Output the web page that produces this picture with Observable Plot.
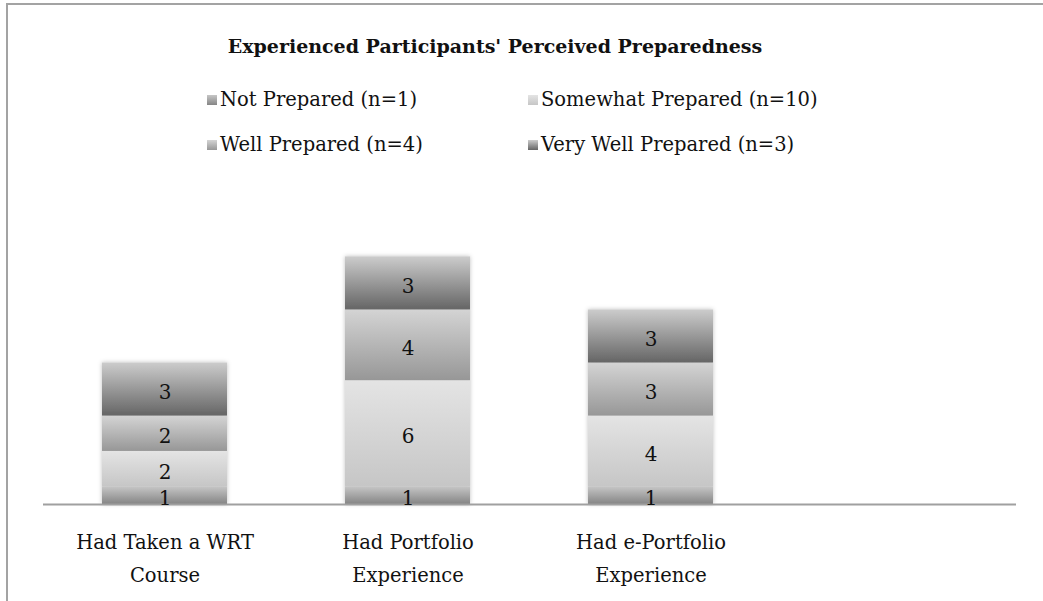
<!DOCTYPE html>
<html>
<head>
<meta charset="utf-8">
<script src="https://cdn.jsdelivr.net/npm/d3@7"></script>
<script src="https://cdn.jsdelivr.net/npm/@observablehq/plot@0.6"></script>
<style>
  html, body { margin: 0; padding: 0; background: #fff; overflow: hidden; }
  body { width: 1043px; height: 601px; position: relative; font-family: "DejaVu Serif", serif; color: #111; }
  #frame { position: absolute; left: 6px; top: 3px; width: 1100px; height: 700px; border-left: 2px solid #a3a3a3; border-top: 2px solid #a3a3a3; box-sizing: border-box; pointer-events: none; }
  #header { position: relative; height: 170px; }
  #title { position: absolute; left: 0; width: 990px; top: 33px; text-align: center; font-weight: bold; font-size: 19px; line-height: 26px; }
  .item { position: absolute; font-size: 19.5px; line-height: 26px; white-space: nowrap; }
  .sw { display: inline-block; width: 10px; height: 10px; margin-right: 3px; vertical-align: 1px; }
  #chart svg { display: block; }
</style>
</head>
<body>
<div id="frame"></div>
<div id="header">
  <div id="title">Experienced Participants' Perceived Preparedness</div>
  <div id="legend"></div>
</div>
<div id="chart"></div>
<script>
const categories = ["Had Taken a WRT\nCourse", "Had Portfolio\nExperience", "Had e-Portfolio\nExperience"];
const series = ["Not Prepared (n=1)", "Somewhat Prepared (n=10)", "Well Prepared (n=4)", "Very Well Prepared (n=3)"];
const notPrepared = [1, 1, 1];
const somewhatPrepared = [2, 6, 4];
const wellPrepared = [2, 4, 3];
const veryWellPrepared = [3, 3, 3];

const gradTop = ["#c6c6c6", "#e4e4e4", "#d4d4d4", "#cccccc"];
const gradBottom = ["#858585", "#c6c6c6", "#979797", "#656565"];

const seriesValues = [notPrepared, somewhatPrepared, wellPrepared, veryWellPrepared];
const data = [];
series.forEach((s, i) => categories.forEach((c, j) => data.push({category: c, series: s, value: seriesValues[i][j]})));

// legend (HTML)
const legendPos = [[207, 87], [528, 87], [207, 132], [528, 132]];
const legend = d3.select("#legend");
series.forEach((s, i) => {
  const it = legend.append("div").attr("class", "item")
    .style("left", legendPos[i][0] + "px").style("top", legendPos[i][1] + "px");
  it.append("span").attr("class", "sw")
    .style("background", `linear-gradient(to bottom, ${gradTop[i]}, ${gradBottom[i]})`);
  it.append("span").text(s);
});

const W = 1043, H = 431;
const plot = Plot.plot({
  width: W,
  height: H,
  marginTop: 51,
  marginBottom: 97,
  marginLeft: 43,
  marginRight: 27,
  style: {fontFamily: "DejaVu Serif, serif", fontSize: "19px", color: "#111", background: "transparent"},
  x: {domain: categories, range: [43, 773], paddingInner: 0.485, paddingOuter: 0.2425, label: null},
  y: {domain: [0, 16], axis: null},
  color: {type: "ordinal", domain: series, range: series.map((_, i) => `url(#grad${i})`)},
  marks: [
    Plot.barY(data, {x: "category", y: "value", fill: "series", z: "series"}),
    Plot.ruleY([0], {stroke: "#a0a0a0", strokeWidth: 2}),
    Plot.text(data, Plot.stackY({x: "category", y: "value", z: "series", text: d => String(d.value), fill: "#111", fontSize: 20, dy: 3})),
    Plot.axisX({tickSize: 0, tickPadding: 22, fontSize: 19.5, lineHeight: 1.65, fill: "#111", label: null})
  ]
});

const svg = d3.select(plot);
const defs = svg.insert("defs", ":first-child");
series.forEach((s, i) => {
  const g = defs.append("linearGradient").attr("id", `grad${i}`)
    .attr("x1", 0).attr("y1", 0).attr("x2", 0).attr("y2", 1);
  g.append("stop").attr("offset", "0%").attr("stop-color", gradTop[i]);
  g.append("stop").attr("offset", "100%").attr("stop-color", gradBottom[i]);
});
const f = defs.append("filter").attr("id", "shadow").attr("x", "-10%").attr("y", "-10%").attr("width", "120%").attr("height", "120%");
f.append("feDropShadow").attr("dx", 0).attr("dy", 0).attr("stdDeviation", 2).attr("flood-color", "#000").attr("flood-opacity", 0.25);
svg.select('g[aria-label="bar"]').attr("filter", "url(#shadow)");

document.getElementById("chart").appendChild(plot);
</script>
</body>
</html>
